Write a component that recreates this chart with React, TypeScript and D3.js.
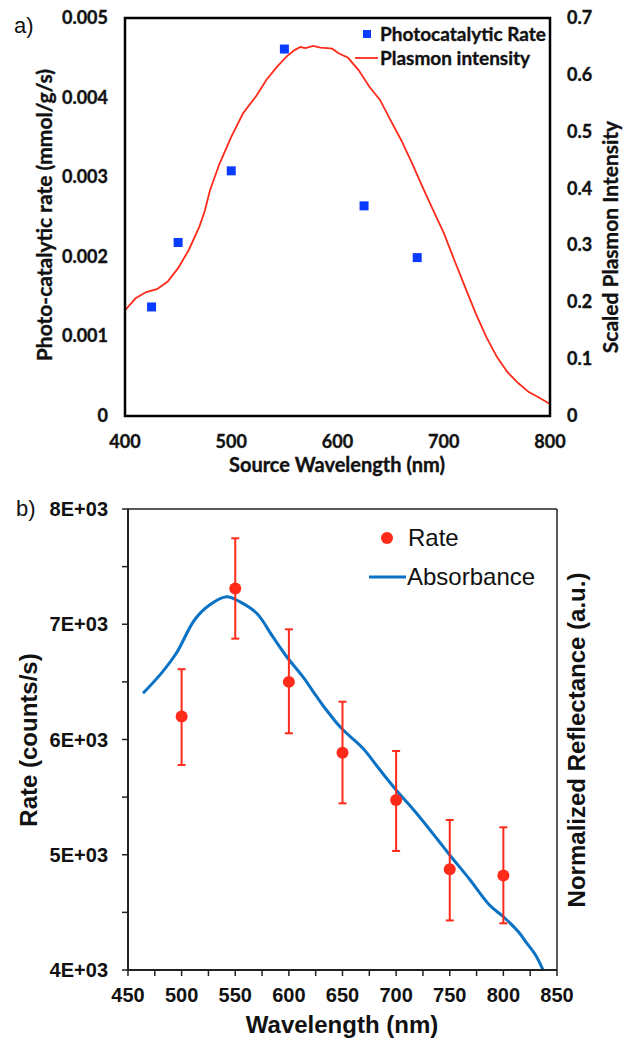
import React from "react";
import * as d3 from "d3";

// ---------- Panel a data ----------
const rateWl = [425, 450, 500, 550, 625, 675];
const rateVal = [0.00137, 0.00218, 0.00308, 0.00461, 0.00264, 0.00199];
const plasmonWl = [400, 410, 420, 430, 440, 450, 460, 470, 475, 480, 489, 500, 511, 524, 533, 543, 552, 560, 565, 570, 577, 584, 590, 595, 601, 610, 620, 630, 640, 650, 660, 670, 680, 690, 700, 710, 720, 730, 740, 750, 760, 770, 780, 790, 800];
const plasmonVal = [0.186, 0.207, 0.218, 0.223, 0.236, 0.26, 0.292, 0.333, 0.36, 0.397, 0.444, 0.491, 0.532, 0.564, 0.591, 0.614, 0.632, 0.644, 0.649, 0.647, 0.651, 0.648, 0.647, 0.646, 0.638, 0.63, 0.608, 0.579, 0.556, 0.52, 0.485, 0.445, 0.403, 0.362, 0.322, 0.274, 0.227, 0.181, 0.139, 0.104, 0.077, 0.058, 0.042, 0.032, 0.021];
const aXTicks = [400, 500, 600, 700, 800];
const aYLTicks = [0, 0.001, 0.002, 0.003, 0.004, 0.005];
const aYRTicks = [0, 0.1, 0.2, 0.3, 0.4, 0.5, 0.6, 0.7];

// ---------- Panel b data ----------
const bRateWl = [500, 550, 600, 650, 700, 750, 800];
const bRateVal = [6200, 7310, 6500, 5885, 5475, 4874, 4820];
const bRateHigh = [6610, 7746, 6956, 6328, 5900, 5302, 5238];
const bRateLow = [5779, 6875, 6054, 5446, 5033, 4430, 4405];
const absWl = [464, 481, 495, 512, 526, 542, 554, 570, 585, 598, 613, 626, 635, 649, 669, 685, 700, 719, 739, 750, 769, 787, 800, 814, 822, 830, 837];
const absVal = [6401, 6574, 6748, 7037, 7167, 7239, 7196, 7095, 6892, 6718, 6545, 6371, 6256, 6097, 5924, 5735, 5562, 5360, 5128, 4998, 4781, 4564, 4462, 4332, 4231, 4130, 4000];
const bXTicks = [450, 500, 550, 600, 650, 700, 750, 800, 850];
const bXMinor = [475, 525, 575, 625, 675, 725, 775, 825];
const bYTicks = [4000, 5000, 6000, 7000, 8000];
const bYMinor = [4500, 5500, 6500, 7500];
const bYLabels = ["4E+03", "5E+03", "6E+03", "7E+03", "8E+03"];

const CAL = "Lato, 'Open Sans', sans-serif";
const ARIAL = "'Liberation Sans', Arial, sans-serif";

export default function App() {
  // panel a scales
  const ax = d3.scaleLinear().domain([400, 800]).range([125, 550]);
  const ayL = d3.scaleLinear().domain([0, 0.005]).range([416, 18]);
  const ayR = d3.scaleLinear().domain([0, 0.7]).range([416, 18]);
  const plasmonLine = d3
    .line<number>()
    .x((_, i) => ax(plasmonWl[i]))
    .y((d) => ayR(d));

  // panel b scales
  const bx = d3.scaleLinear().domain([450, 850]).range([128, 557]);
  const by = d3.scaleLinear().domain([4000, 8000]).range([970, 509]);
  const absLine = d3
    .line<number>()
    .x((_, i) => bx(absWl[i]))
    .y((d) => by(d))
    .curve(d3.curveCatmullRom);

  const red = "#ff2a1a";
  const blueSq = "#0a3cff";
  const blueLine = "#0a72c4";
  const calStyle = { fontFamily: CAL, fontWeight: 700, fill: "#111", stroke: "#111", strokeWidth: 0.35 } as const;

  return (
    <svg
      width={624}
      height={1038}
      style={{ position: "absolute", left: 0, top: 0, background: "#fff" }}
    >
      {/* ================= Panel a ================= */}
      <text x={14} y={33} fontFamily={ARIAL} fontSize={22} fill="#111">a)</text>

      {/* plasmon curve */}
      <path d={plasmonLine(plasmonVal) || ""} fill="none" stroke={red} strokeWidth={1.8} />
      {/* squares */}
      {rateVal.map((v, i) => (
        <rect key={i} x={ax(rateWl[i]) - 4.5} y={ayL(v) - 4.5} width={9} height={9} fill={blueSq} />
      ))}

      {/* frame */}
      <rect x={125} y={18} width={425} height={398} fill="none" stroke="#000" strokeWidth={2.5} />

      {/* tick labels */}
      {aYLTicks.map((t) => (
        <text key={t} x={108} y={ayL(t) + 6} textAnchor="end" fontSize={18} {...calStyle}>
          {t === 0 ? "0" : t.toFixed(3)}
        </text>
      ))}
      {aYRTicks.map((t) => (
        <text key={t} x={567} y={ayR(t) + 6} textAnchor="start" fontSize={18} {...calStyle}>
          {t === 0 ? "0" : t.toFixed(1)}
        </text>
      ))}
      {aXTicks.map((t) => (
        <text key={t} x={ax(t)} y={448} textAnchor="middle" fontSize={18} {...calStyle}>
          {t}
        </text>
      ))}
      <text x={337} y={472} textAnchor="middle" fontSize={20} {...calStyle}>
        Source Wavelength (nm)
      </text>
      <text transform="translate(52,215) rotate(-90)" textAnchor="middle" fontSize={21} {...calStyle}>
        Photo-catalytic rate (mmol/g/s)
      </text>
      <text transform="translate(618,237) rotate(-90)" textAnchor="middle" fontSize={21} {...calStyle}>
        Scaled Plasmon Intensity
      </text>

      {/* legend a */}
      <rect x={363} y={30} width={8} height={8} fill={blueSq} />
      <text x={380} y={41} fontSize={19} {...calStyle}>Photocatalytic Rate</text>
      <line x1={355} x2={378} y1={58} y2={58} stroke={red} strokeWidth={1.8} />
      <text x={380} y={65} fontSize={19} {...calStyle}>Plasmon intensity</text>

      {/* ================= Panel b ================= */}
      <text x={16} y={516} fontFamily={ARIAL} fontSize={22} fill="#111">b)</text>

      {/* absorbance */}
      <path d={absLine(absVal) || ""} fill="none" stroke={blueLine} strokeWidth={3} />

      {/* error bars + dots */}
      {bRateVal.map((v, i) => {
        const x = bx(bRateWl[i]);
        return (
          <g key={i}>
            <line x1={x} x2={x} y1={by(bRateLow[i])} y2={by(bRateHigh[i])} stroke={red} strokeWidth={2} />
            <line x1={x - 4} x2={x + 4} y1={by(bRateLow[i])} y2={by(bRateLow[i])} stroke={red} strokeWidth={2} />
            <line x1={x - 4} x2={x + 4} y1={by(bRateHigh[i])} y2={by(bRateHigh[i])} stroke={red} strokeWidth={2} />
            <circle cx={x} cy={by(v)} r={6} fill={red} />
          </g>
        );
      })}

      {/* frame */}
      <line x1={128} x2={557} y1={509} y2={509} stroke="#222" strokeWidth={1.5} />
      <line x1={557} x2={557} y1={509} y2={970} stroke="#222" strokeWidth={1.5} />
      <line x1={128} x2={128} y1={509} y2={971} stroke="#222" strokeWidth={2} />
      <line x1={127} x2={557} y1={970} y2={970} stroke="#222" strokeWidth={2} />

      {/* y ticks */}
      {[...bYTicks, ...bYMinor].map((t) => (
        <line key={"y" + t} x1={122} x2={128} y1={by(t)} y2={by(t)} stroke="#222" strokeWidth={1.5} />
      ))}
      {bYTicks.map((t, i) => (
        <text key={t} x={108} y={by(t) + 7} textAnchor="end" fontFamily={ARIAL} fontWeight={700} fontSize={20} fill="#111">
          {bYLabels[i]}
        </text>
      ))}
      {/* x ticks */}
      {[...bXTicks, ...bXMinor].map((t) => (
        <line key={"x" + t} x1={bx(t)} x2={bx(t)} y1={970} y2={976} stroke="#222" strokeWidth={1.5} />
      ))}
      {bXTicks.map((t) => (
        <text key={t} x={bx(t)} y={1002} textAnchor="middle" fontFamily={ARIAL} fontWeight={700} fontSize={20} fill="#111">
          {t}
        </text>
      ))}
      <text x={342} y={1033} textAnchor="middle" fontFamily={ARIAL} fontWeight={700} fontSize={24} fill="#111">
        Wavelength (nm)
      </text>
      <text transform="translate(37,740) rotate(-90)" textAnchor="middle" fontFamily={ARIAL} fontWeight={700} fontSize={24} fill="#111">
        Rate (counts/s)
      </text>
      <text transform="translate(585,740) rotate(-90)" textAnchor="middle" fontFamily={ARIAL} fontWeight={700} fontSize={24} fill="#111">
        Normalized Reflectance (a.u.)
      </text>

      {/* legend b */}
      <circle cx={387} cy={538} r={6} fill={red} />
      <text x={408} y={546} fontFamily={ARIAL} fontSize={24} fill="#111">Rate</text>
      <line x1={369} x2={406} y1={577} y2={577} stroke={blueLine} strokeWidth={3} />
      <text x={407} y={585} fontFamily={ARIAL} fontSize={24} fill="#111">Absorbance</text>
    </svg>
  );
}
